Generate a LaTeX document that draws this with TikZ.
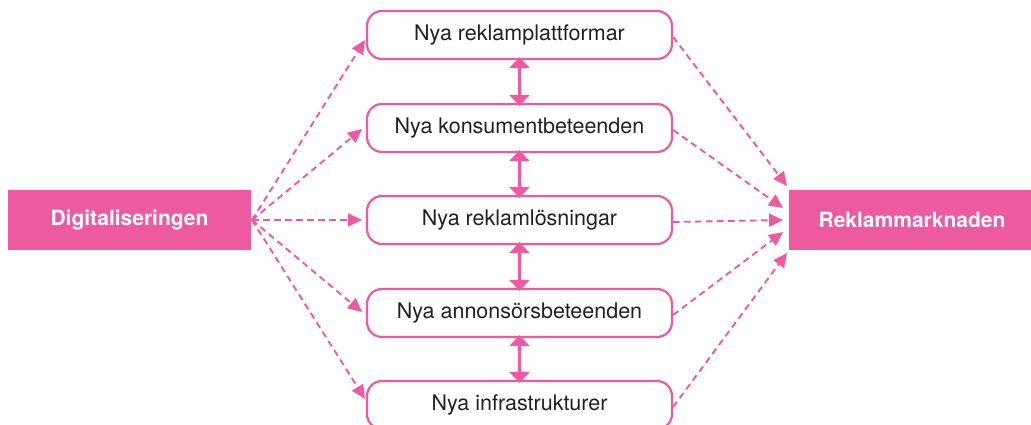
\documentclass[tikz,border=0pt]{standalone}
\usepackage{fontspec}
\setmainfont{TeX Gyre Heros}
\usetikzlibrary{arrows.meta}
\definecolor{pk}{RGB}{238,90,160}
\definecolor{tx}{RGB}{35,31,32}
\tikzset{
  x=1pt,y=-1pt,
  mid/.style={draw=pk,line width=2.2pt,rounded corners=15pt,minimum width=305pt,minimum height=48pt,inner sep=0pt,text=tx,font=\fontsize{21.5}{25}\selectfont},
  side/.style={fill=pk,draw=none,inner sep=0pt,text=white,font=\bfseries\fontsize{21}{25}\selectfont},
  darr/.style={pk,line width=1.9pt,dash pattern=on 6.5pt off 4.5pt,-{Triangle[length=14pt,width=13pt]}},
  biarr/.style={pk,line width=2.6pt,{Triangle[length=11pt,width=20pt]}-{Triangle[length=11pt,width=20pt]}}
}
\begin{document}
\begin{tikzpicture}
\useasboundingbox (0,0) rectangle (1031,425);
\node[side,minimum width=243pt,minimum height=60pt] (dig) at (129.5,220) {Digitaliseringen};
\node[side,minimum width=246pt,minimum height=60pt] (rek) at (912,220) {Reklammarknaden};
\node[mid] (b1) at (519.5,35) {Nya reklamplattformar};
\node[mid] (b2) at (519.5,128) {Nya konsumentbeteenden};
\node[mid] (b3) at (519.5,220) {Nya reklamlösningar};
\node[mid] (b4) at (519.5,313) {Nya annonsörsbeteenden};
\node[mid] (b5) at (519.5,405) {Nya infrastrukturer};
\coordinate (s) at (252,220);
\coordinate (l1) at (365,40);
\coordinate (l2) at (362,129);
\coordinate (l3) at (362,220);
\coordinate (l4) at (362,312);
\coordinate (l5) at (365,399);
\coordinate (r1) at (787,186);
\coordinate (r2) at (783,208);
\coordinate (r3) at (783,220);
\coordinate (r4) at (783,232);
\coordinate (r5) at (787,253);
\foreach \i in {1,...,5}{
  \draw[darr] (s) -- (l\i);
  \draw[darr] ([yshift=-2pt]b\i.east) -- (r\i);
}
\foreach \a/\b in {b1/b2,b2/b3,b3/b4,b4/b5}{
  \draw[biarr] ([yshift=3pt]\a.south) -- ([yshift=-3pt]\b.north);
}
\end{tikzpicture}
\end{document}
